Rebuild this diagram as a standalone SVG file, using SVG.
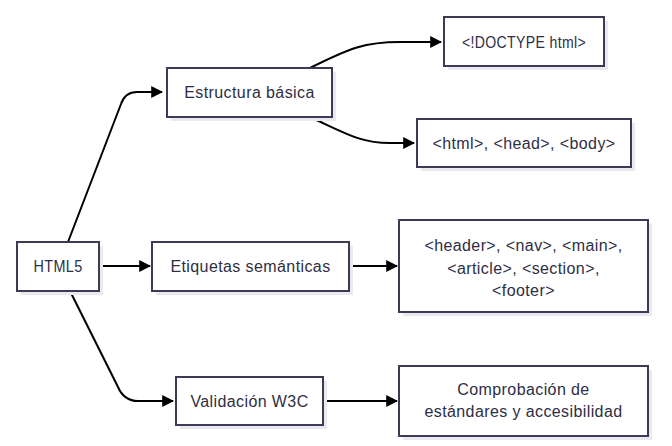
<svg xmlns="http://www.w3.org/2000/svg" width="672" height="446" viewBox="0 0 672 446">
<defs>
<style>
.box{fill:#ffffff;stroke:#3b3b55;stroke-width:2;}
.sh{fill:#e9e9ef;}
.t{font-family:"Liberation Sans",Arial,sans-serif;font-size:16px;letter-spacing:0.4px;fill:#2e2e44;text-anchor:middle;dominant-baseline:central;}
.e{fill:none;stroke:#000000;stroke-width:2;}
</style>
<marker id="arr" viewBox="0 0 10 10" refX="9" refY="5" markerWidth="6" markerHeight="6" markerUnits="strokeWidth" orient="auto">
<path d="M0,0 L10,5 L0,10 z" fill="#000000"/>
</marker>
</defs>
<rect width="672" height="446" fill="#ffffff"/>
<g id="connectors">
<path class="e" d="M68,242 L121,104 Q125,92 137,92 L162,92" marker-end="url(#arr)"/>
<path class="e" d="M99,266 L150,266" marker-end="url(#arr)"/>
<path class="e" d="M70,291 L118,387 Q124,401 138,401 L173,401" marker-end="url(#arr)"/>
<path class="e" d="M310,68 C350,48 365,42 400,42 L441,42" marker-end="url(#arr)"/>
<path class="e" d="M310,117 C345,133 360,143 390,143 L414,143" marker-end="url(#arr)"/>
<path class="e" d="M349,266 L397,266" marker-end="url(#arr)"/>
<path class="e" d="M323,401 L397,401" marker-end="url(#arr)"/>
</g>
<g id="html5">
<rect class="sh" x="21" y="246" width="82" height="49"/>
<rect class="box" x="17" y="242" width="82" height="49"/>
<text class="t" x="58" y="266.5" textLength="49" lengthAdjust="spacingAndGlyphs">HTML5</text>
</g>
<g id="estructura">
<rect class="sh" x="171" y="72" width="165" height="49"/>
<rect class="box" x="167" y="68" width="165" height="49"/>
<text class="t" x="249.5" y="92.5">Estructura básica</text>
</g>
<g id="etiquetas">
<rect class="sh" x="156" y="246" width="197" height="49"/>
<rect class="box" x="152" y="242" width="197" height="49"/>
<text class="t" x="250.5" y="266.5">Etiquetas semánticas</text>
</g>
<g id="validacion">
<rect class="sh" x="180" y="381" width="147" height="48"/>
<rect class="box" x="176" y="377" width="147" height="48"/>
<text class="t" x="249.5" y="401">Validación W3C</text>
</g>
<g id="doctype">
<rect class="sh" x="448" y="21" width="160" height="49"/>
<rect class="box" x="444" y="17" width="160" height="49"/>
<text class="t" x="524" y="42" textLength="124" lengthAdjust="spacingAndGlyphs">&lt;!DOCTYPE html&gt;</text>
</g>
<g id="htmlheadbody">
<rect class="sh" x="421" y="123" width="214" height="48"/>
<rect class="box" x="417" y="119" width="214" height="48"/>
<text class="t" x="524" y="143">&lt;html&gt;, &lt;head&gt;, &lt;body&gt;</text>
</g>
<g id="semanticas">
<rect class="sh" x="403" y="224" width="249" height="92"/>
<rect class="box" x="399" y="220" width="249" height="92"/>
<text class="t" x="523.5" y="245">&lt;header&gt;, &lt;nav&gt;, &lt;main&gt;,</text>
<text class="t" x="523.5" y="268">&lt;article&gt;, &lt;section&gt;,</text>
<text class="t" x="523.5" y="290">&lt;footer&gt;</text>
</g>
<g id="comprobacion">
<rect class="sh" x="403" y="370" width="249" height="70"/>
<rect class="box" x="399" y="366" width="249" height="70"/>
<text class="t" x="523.5" y="389">Comprobación de</text>
<text class="t" x="523.5" y="411">estándares y accesibilidad</text>
</g>
</svg>
